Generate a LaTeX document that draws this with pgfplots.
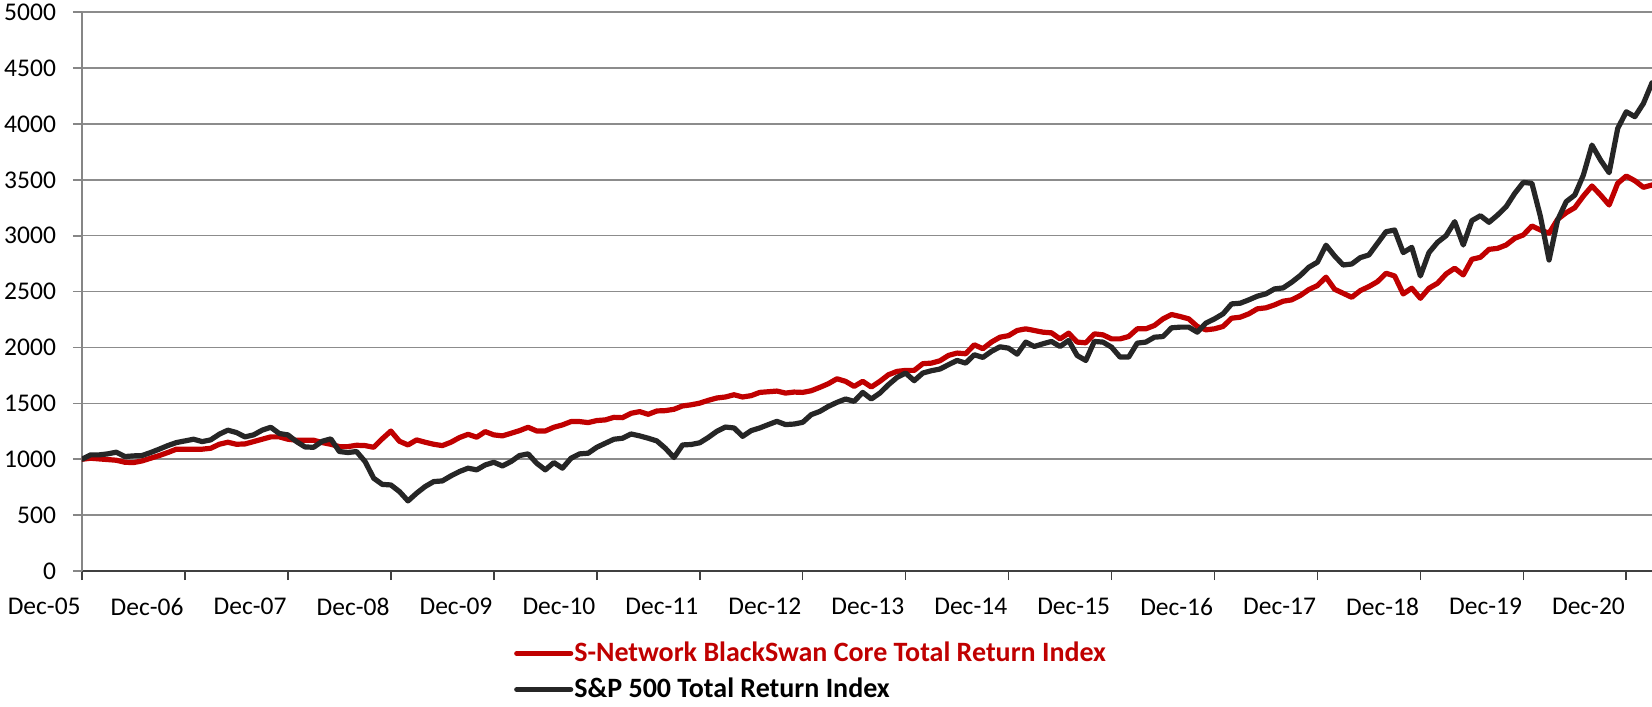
\documentclass[border=0pt]{standalone}
\usepackage{pgfplots}
\pgfplotsset{compat=1.18}
\usepackage{pgfplotstable}
\usepackage{fontspec}
\setmainfont{Carlito}
\definecolor{redline}{HTML}{C00000}
\definecolor{darkline}{HTML}{262626}
\definecolor{gridgray}{HTML}{8C8C8C}
\definecolor{axisgray}{HTML}{868686}
\definecolor{xaxisdark}{HTML}{404040}

\pgfplotstableread{
m red black
0 1000 1000
1 1009 1039
2 1003 1039
3 997 1048
4 991 1063
5 973 1024
6 970 1030
7 985 1033
8 1009 1060
9 1033 1090
10 1060 1122
11 1090 1149
12 1090 1164
13 1090 1179
14 1090 1158
15 1098 1173
16 1134 1224
17 1152 1260
18 1134 1239
19 1137 1200
20 1158 1218
21 1179 1260
22 1200 1286
23 1200 1230
24 1179 1218
25 1170 1158
26 1170 1110
27 1170 1107
28 1149 1161
29 1134 1182
30 1113 1069
31 1113 1060
32 1125 1069
33 1122 979
34 1107 830
35 1183 775
36 1252 770
37 1161 711
38 1128 627
39 1173 696
40 1152 756
41 1134 800
42 1122 806
43 1152 851
44 1194 890
45 1223 920
46 1197 905
47 1247 949
48 1218 973
49 1209 940
50 1232 979
51 1256 1033
52 1286 1048
53 1253 964
54 1253 905
55 1286 970
56 1307 920
57 1337 1009
58 1337 1048
59 1328 1054
60 1346 1107
61 1352 1143
62 1375 1179
63 1372 1188
64 1411 1226
65 1426 1209
66 1402 1188
67 1432 1164
68 1435 1098
69 1447 1015
70 1477 1128
71 1487 1132
72 1502 1147
73 1527 1195
74 1548 1250
75 1557 1288
76 1577 1280
77 1557 1205
78 1569 1256
79 1598 1280
80 1604 1310
81 1610 1339
82 1592 1310
83 1601 1315
84 1598 1330
85 1613 1399
86 1643 1428
87 1676 1473
88 1720 1509
89 1697 1539
90 1652 1518
91 1697 1598
92 1646 1539
93 1697 1592
94 1756 1667
95 1786 1732
96 1795 1771
97 1795 1703
98 1855 1771
99 1860 1792
100 1881 1807
101 1929 1846
102 1950 1884
103 1944 1860
104 2024 1935
105 1989 1911
106 2048 1965
107 2092 2006
108 2106 1994
109 2152 1940
110 2167 2048
111 2152 2009
112 2137 2033
113 2131 2054
114 2077 2009
115 2128 2063
116 2048 1928
117 2042 1884
118 2122 2054
119 2113 2048
120 2077 2003
121 2077 1914
122 2098 1914
123 2167 2039
124 2167 2048
125 2197 2092
126 2256 2098
127 2295 2176
128 2277 2182
129 2256 2182
130 2188 2137
131 2158 2218
132 2167 2256
133 2188 2301
134 2262 2390
135 2271 2396
136 2301 2426
137 2346 2459
138 2355 2480
139 2381 2524
140 2414 2533
141 2426 2584
142 2465 2644
143 2518 2718
144 2554 2763
145 2629 2915
146 2521 2819
147 2485 2738
148 2449 2747
149 2509 2804
150 2545 2828
151 2589 2932
152 2664 3036
153 2640 3051
154 2479 2849
155 2530 2896
156 2440 2640
157 2530 2849
158 2575 2941
159 2658 3001
160 2709 3126
161 2649 2917
162 2789 3135
163 2807 3179
164 2878 3120
165 2887 3185
166 2917 3260
167 2977 3379
168 3007 3477
169 3087 3469
170 3051 3170
171 3022 2783
172 3147 3141
173 3206 3305
174 3251 3364
175 3355 3543
176 3445 3811
177 3364 3677
178 3275 3564
179 3469 3960
180 3534 4109
181 3492 4065
182 3433 4184
183 3454 4368
}\indexdata

\begin{document}
\begin{tikzpicture}
\begin{axis}[
  at={(41pt,67.5pt)}, anchor=south west,
  scale only axis, width=785pt, height=279.4pt,
  xmin=0, xmax=183, ymin=0, ymax=5000,
  axis lines*=left,
  x axis line style={draw=xaxisdark, line width=0.9pt},
  y axis line style={draw=axisgray, line width=0.9pt},
  ytick={0,500,...,5000},
  xtick={0,12,...,180},
  xticklabels={Dec-05,Dec-06,Dec-07,Dec-08,Dec-09,Dec-10,Dec-11,Dec-12,Dec-13,Dec-14,Dec-15,Dec-16,Dec-17,Dec-18,Dec-19,Dec-20},
  tick align=outside,
  major tick length=4.5pt,
  x tick style={draw=xaxisdark, line width=0.8pt},
  y tick style={draw=axisgray, line width=0.8pt},
  ymajorgrids,
  grid style={draw=gridgray, line width=0.75pt},
  tick label style={font=\fontsize{12.75}{14}\selectfont, text=black},
  /pgf/number format/assume math mode=true,
  /pgf/number format/set thousands separator={},
  xticklabel style={anchor=north east, inner xsep=0pt, xshift=-0.5pt, yshift=-5.5pt},
  yticklabel style={anchor=east, xshift=-5pt},
  legend cell align=left,
  legend image code/.code={\draw[#1, line width=2.6pt] (0pt,0pt) -- (27pt,0pt);},
  legend style={draw=none, fill=none, inner sep=0pt, at={(0.275,-0.180)}, anchor=west,
    font=\bfseries\fontsize{14}{16}\selectfont, row sep=4.75pt,
    nodes={inner xsep=0.5pt, inner ysep=1pt}},
  every axis plot/.append style={line join=round, line cap=round},
]
\addplot[redline, line width=2.6pt, mark=none] table[x=m, y=red] {\indexdata};
\addlegendentry{\textcolor{redline}{S-Network BlackSwan Core Total Return Index}}
\addplot[darkline, line width=2.6pt, mark=none] table[x=m, y=black] {\indexdata};
\addlegendentry{\textcolor{black}{S\&P 500 Total Return Index}}
\end{axis}
\pgfresetboundingbox
\path[use as bounding box] (0,0) rectangle (826pt,353pt);
\end{tikzpicture}
\end{document}
